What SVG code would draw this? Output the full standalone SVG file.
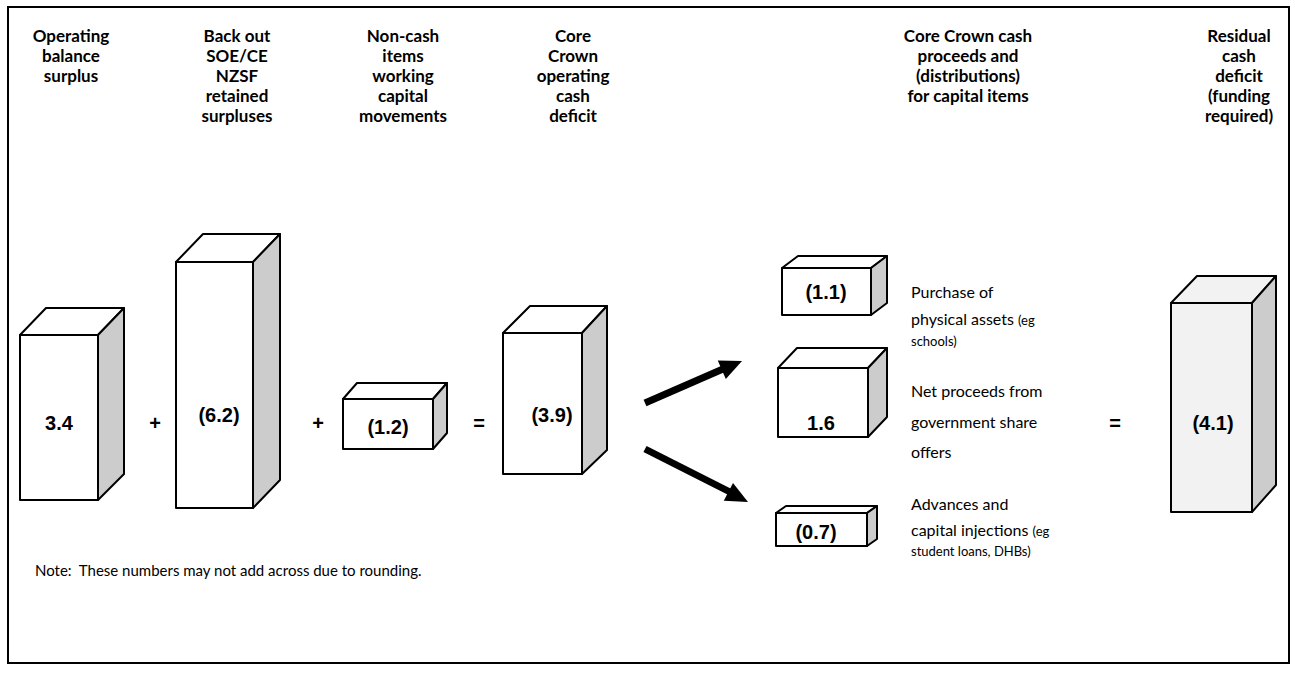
<svg xmlns="http://www.w3.org/2000/svg" width="1295" height="677" viewBox="0 0 1295 677">
<defs>
<style>
.frame{fill:#fff;stroke:#000;stroke-width:2}
.face{fill:#fff;stroke:#000;stroke-width:2;stroke-linejoin:round}
.side{fill:#cccccc;stroke:#000;stroke-width:2;stroke-linejoin:round}
.face2{fill:#f2f2f2;stroke:#000;stroke-width:2;stroke-linejoin:round}
.hdr{font-family:Lato,"Liberation Sans",sans-serif;font-weight:bold;font-size:17px;fill:#000;text-anchor:middle}
.num{font-family:"Liberation Sans",Arial,sans-serif;font-weight:bold;font-size:20px;fill:#000;text-anchor:middle}
.op{font-family:"Liberation Sans",Arial,sans-serif;font-weight:bold;font-size:20px;fill:#000;text-anchor:middle}
.lbl{font-family:Lato,"Liberation Sans",sans-serif;font-size:16px;fill:#000}
.sm{font-size:13px}
.note{font-family:Lato,"Liberation Sans",sans-serif;font-size:15px;fill:#000}
.arr{stroke:#000;stroke-width:7;fill:none}
</style>
</defs>
<rect class="frame" x="8" y="7" width="1281" height="656"/>

<g id="headers">
<text class="hdr" x="71" y="42">Operating<tspan x="71" dy="20">balance</tspan><tspan x="71" dy="20">surplus</tspan></text>
<text class="hdr" x="237" y="42">Back out<tspan x="237" dy="20">SOE/CE</tspan><tspan x="237" dy="20">NZSF</tspan><tspan x="237" dy="20">retained</tspan><tspan x="237" dy="20">surpluses</tspan></text>
<text class="hdr" x="403" y="42">Non-cash<tspan x="403" dy="20">items</tspan><tspan x="403" dy="20">working</tspan><tspan x="403" dy="20">capital</tspan><tspan x="403" dy="20">movements</tspan></text>
<text class="hdr" x="573" y="42">Core<tspan x="573" dy="20">Crown</tspan><tspan x="573" dy="20">operating</tspan><tspan x="573" dy="20">cash</tspan><tspan x="573" dy="20">deficit</tspan></text>
<text class="hdr" x="968" y="42">Core Crown cash<tspan x="968" dy="20">proceeds and</tspan><tspan x="968" dy="20">(distributions)</tspan><tspan x="968" dy="20">for capital items</tspan></text>
<text class="hdr" x="1239" y="42">Residual<tspan x="1239" dy="20">cash</tspan><tspan x="1239" dy="20">deficit</tspan><tspan x="1239" dy="20">(funding</tspan><tspan x="1239" dy="20">required)</tspan></text>
</g>

<g id="box-operating-balance">
<polygon class="face" points="20,335 46,308 124,308 98,335"/>
<polygon class="side" points="98,335 124,308 124,474 98,500"/>
<rect class="face" x="20" y="335" width="78" height="165"/>
<text class="num" x="59" y="430">3.4</text>
</g>
<text class="op" x="155" y="430">+</text>

<g id="box-back-out">
<polygon class="face" points="176,262 203,234 280,234 253,262"/>
<polygon class="side" points="253,262 280,234 280,480 253,508"/>
<rect class="face" x="176" y="262" width="77" height="246"/>
<text class="num" x="219" y="422">(6.2)</text>
</g>
<text class="op" x="318" y="430">+</text>

<g id="box-non-cash">
<polygon class="face" points="343,399 357,383 447,383 433,399"/>
<polygon class="side" points="433,399 447,383 447,433 433,449"/>
<rect class="face" x="343" y="399" width="90" height="50"/>
<text class="num" x="388" y="434">(1.2)</text>
</g>
<text class="op" x="479" y="430">=</text>

<g id="box-core-deficit">
<polygon class="face" points="503,333 530,306 607,306 582,333"/>
<polygon class="side" points="582,333 607,306 607,450 582,474"/>
<rect class="face" x="503" y="333" width="79" height="141"/>
<text class="num" x="552" y="422">(3.9)</text>
</g>

<g id="connectors">
<line class="arr" x1="645" y1="403" x2="723" y2="369"/>
<polygon points="742,361 725.8,378.9 717.8,360.5" fill="#000"/>
<line class="arr" x1="645" y1="449" x2="730" y2="492"/>
<polygon points="748,502 723.8,500.8 733,483" fill="#000"/>
</g>

<g id="box-physical-assets">
<polygon class="face" points="782,268 798,256 887,256 871,268"/>
<polygon class="side" points="871,268 887,256 887,303 871,315"/>
<rect class="face" x="782" y="268" width="89" height="47"/>
<text class="num" x="826" y="299">(1.1)</text>
<text class="lbl" x="911" y="298">Purchase of</text>
<text class="lbl" x="911" y="325">physical assets <tspan class="sm">(eg</tspan></text>
<text class="lbl sm" x="911" y="346">schools)</text>
</g>

<g id="box-share-offers">
<polygon class="face" points="778,368 797,348 887,348 868,368"/>
<polygon class="side" points="868,368 887,348 887,417 868,437"/>
<rect class="face" x="778" y="368" width="90" height="69"/>
<text class="num" x="821" y="430">1.6</text>
<text class="lbl" x="911" y="397">Net proceeds from</text>
<text class="lbl" x="911" y="428">government share</text>
<text class="lbl" x="911" y="458">offers</text>
</g>

<g id="box-advances">
<polygon class="face" points="776,513 786,506 877,506 867,513"/>
<polygon class="side" points="867,513 877,506 877,539 867,546"/>
<rect class="face" x="776" y="513" width="91" height="33"/>
<text class="num" x="816" y="539">(0.7)</text>
<text class="lbl" x="911" y="510">Advances and</text>
<text class="lbl" x="911" y="536">capital injections <tspan class="sm">(eg</tspan></text>
<text class="lbl sm" x="911" y="556">student loans, DHBs)</text>
</g>
<text class="op" x="1115" y="430">=</text>

<g id="box-residual">
<polygon class="face2" points="1171,303 1197,276 1276,276 1252,303"/>
<polygon class="side" points="1252,303 1276,276 1276,485 1252,512"/>
<rect class="face2" x="1171" y="303" width="81" height="209"/>
<text class="num" x="1213" y="430">(4.1)</text>
</g>

<text class="note" x="35" y="576">Note:&#160; These numbers may not add across due to rounding.</text>
</svg>
